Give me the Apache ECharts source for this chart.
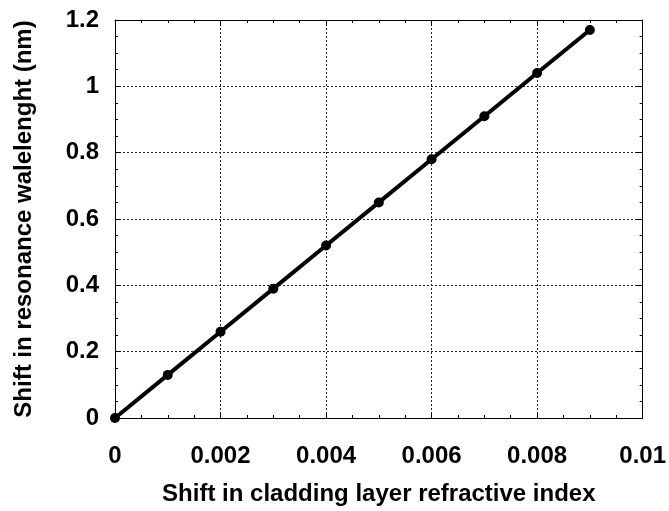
<!DOCTYPE html>
<html>
<head>
<meta charset="utf-8">
<script src="https://cdn.jsdelivr.net/npm/echarts@6/dist/echarts.min.js"></script>
<style>html,body{margin:0;padding:0;background:#fff}#c{width:669px;height:511px}</style>
</head>
<body>
<div id="c"></div>
<script>
const xValues = [0, 0.001, 0.002, 0.003, 0.004, 0.005, 0.006, 0.007, 0.008, 0.009];
const yValues = [0, 0.13, 0.26, 0.39, 0.52, 0.65, 0.78, 0.91, 1.04, 1.17];
const xTickLabels = ['0', '0.002', '0.004', '0.006', '0.008', '0.01'];
const yTickLabels = ['0', '0.2', '0.4', '0.6', '0.8', '1', '1.2'];
const xTitle = 'Shift in cladding layer refractive index';
const yTitle = 'Shift in resonance walelenght (nm)';

const FONT = '"Liberation Sans", Arial, sans-serif';
const chart = echarts.init(document.getElementById('c'));

function baseAxis(extra) {
  return Object.assign({
    type: 'value',
    axisLine: { show: true, onZero: false, lineStyle: { color: '#000', width: 1 } },
    axisTick: { show: true, inside: true, length: 6, lineStyle: { color: '#000' } },
    minorTick: { show: true, splitNumber: 4, length: 3, lineStyle: { color: '#000' } },
    minorSplitLine: { show: false }
  }, extra);
}

chart.setOption({
  animation: false,
  grid: { left: 115, right: 23, top: 20, bottom: 92, containLabel: false },
  xAxis: [
    baseAxis({
      position: 'bottom', min: 0, max: 0.01, interval: 0.002,
      name: xTitle, nameLocation: 'middle', nameGap: 64,
      nameTextStyle: { fontFamily: FONT, fontWeight: 'bold', fontSize: 24, color: '#000' },
      axisLabel: {
        margin: 26, fontFamily: FONT, fontWeight: 'bold', fontSize: 24, color: '#000',
        formatter: v => xTickLabels[Math.round(v / 0.002)]
      },
      splitLine: { show: true, lineStyle: { type: [2, 2], color: '#222', width: 1 } }
    }),
    baseAxis({
      position: 'top', min: 0, max: 0.01, interval: 0.002,
      axisLabel: { show: false }, splitLine: { show: false }
    })
  ],
  yAxis: [
    baseAxis({
      position: 'left', min: 0, max: 1.2, interval: 0.2,
      name: yTitle, nameLocation: 'middle', nameGap: 79, nameRotate: 90,
      nameTextStyle: { fontFamily: FONT, fontWeight: 'bold', fontSize: 24, color: '#000' },
      axisLabel: {
        margin: 16, fontFamily: FONT, fontWeight: 'bold', fontSize: 24, color: '#000',
        formatter: v => yTickLabels[Math.round(v / 0.2)]
      },
      splitLine: { show: true, lineStyle: { type: [2, 2], color: '#222', width: 1 } }
    }),
    baseAxis({
      position: 'right', min: 0, max: 1.2, interval: 0.2,
      axisLabel: { show: false }, splitLine: { show: false }
    })
  ],
  series: [{
    type: 'line',
    data: xValues.map((x, i) => [x, yValues[i]]),
    symbol: 'circle', symbolSize: 10,
    lineStyle: { color: '#000', width: 4 },
    itemStyle: { color: '#000' },
    clip: false
  }]
});
</script>
</body>
</html>
